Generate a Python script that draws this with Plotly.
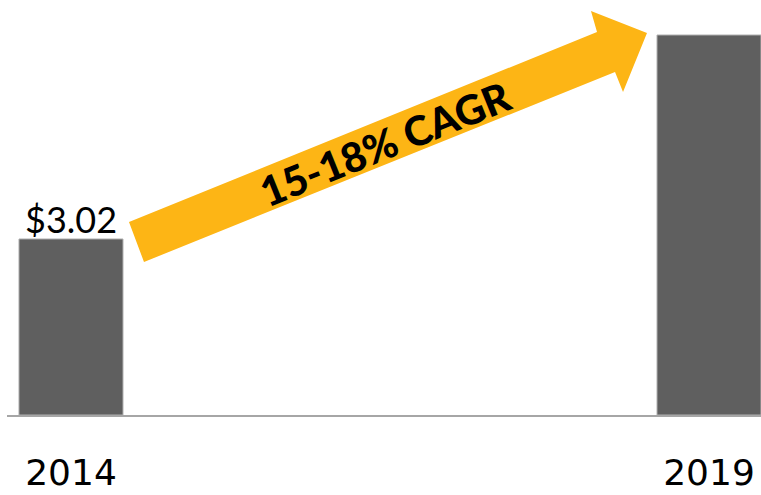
import plotly.graph_objects as go

years = ["2014", "2019"]
eps = [3.02, 6.52]
label_2014 = "$3.02"
cagr_text = "15-18% CAGR"

W, H = 761, 495
ML, MB = 7, 80
PW, PH = W - ML, H - MB

def px(x):
    return (x - ML) / PW

def py(y):
    return (PH - y) / PH

fig = go.Figure()
fig.add_trace(go.Bar(
    x=years, y=eps, width=0.163,
    marker=dict(color="#5f5f5f", line=dict(color="#b0b0b0", width=1)),
    hoverinfo="skip",
))

arrow_pts = [(129, 222), (597, 32), (591, 11), (647, 33), (623, 92), (615, 72), (144, 262)]
path = "M " + " L ".join(f"{px(a):.4f},{py(b):.4f}" for a, b in arrow_pts) + " Z"
fig.add_shape(type="path", path=path, xref="paper", yref="paper",
              fillcolor="#FDB515", line=dict(width=0), layer="above")

fig.add_annotation(x=px(385), y=py(143), xref="paper", yref="paper",
                   text=cagr_text, textangle=-22, showarrow=False,
                   xanchor="center", yanchor="middle",
                   font=dict(family="Lato", size=41, color="#000000", weight=900))

fig.add_annotation(x=0, y=eps[0], xref="x", yref="y",
                   text=label_2014, showarrow=False, xanchor="center", yanchor="bottom",
                   yshift=-4, font=dict(family="Lato", size=36, color="#000000"))

fig.update_layout(
    width=W, height=H,
    margin=dict(l=ML, r=0, t=0, b=MB),
    paper_bgcolor="white", plot_bgcolor="white",
    showlegend=False,
    xaxis=dict(type="category", range=[-0.1003, 1.0815], showgrid=False, zeroline=False,
               showline=True, linecolor="#a6a6a6", linewidth=2, automargin=False,
               ticks="", tickfont=dict(family="DejaVu Sans", size=36, color="#000000"),
               ticklabelstandoff=25),
    yaxis=dict(range=[0, PH / 58.28], visible=False, fixedrange=True, automargin=False),
)

fig.write_html("out.html")
